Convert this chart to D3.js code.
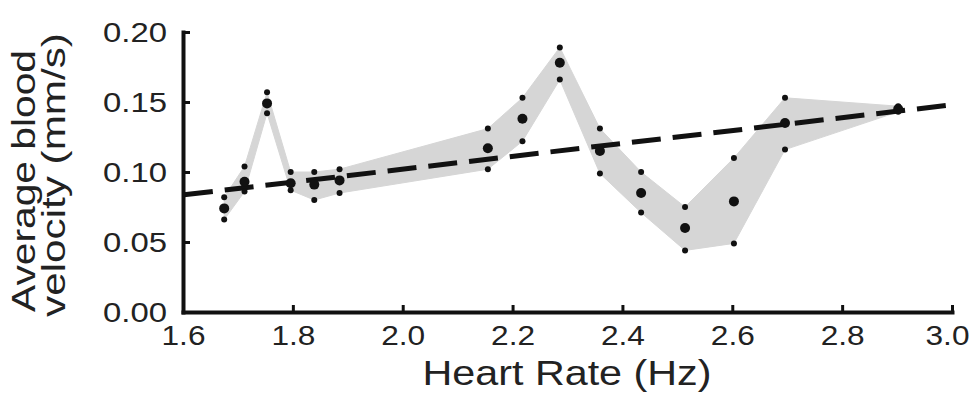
<!DOCTYPE html>
<html>
<head>
<meta charset="utf-8">
<script src="https://cdn.jsdelivr.net/npm/d3@7"></script>
<style>
  html, body { margin: 0; padding: 0; background: #fff; }
  svg { display: block; }
  text { font-family: "Liberation Sans", Arial, Helvetica, sans-serif; fill: #222; }
</style>
</head>
<body>
<svg id="chart" width="973" height="396"></svg>
<script>
// ---- data ----
const heartRate = [1.675, 1.712, 1.753, 1.796, 1.839, 1.885, 2.155, 2.218, 2.286, 2.359, 2.434, 2.514, 2.603, 2.696, 2.902];
const meanVel   = [0.074, 0.093, 0.149, 0.092, 0.091, 0.094, 0.117, 0.138, 0.178, 0.115, 0.085, 0.060, 0.079, 0.135, 0.145];
const upperVel  = [0.082, 0.104, 0.157, 0.100, 0.100, 0.102, 0.131, 0.153, 0.189, 0.131, 0.100, 0.075, 0.110, 0.153, 0.147];
const lowerVel  = [0.066, 0.086, 0.142, 0.087, 0.080, 0.085, 0.102, 0.122, 0.166, 0.099, 0.071, 0.044, 0.049, 0.116, 0.143];
const fitX = [1.6, 3.0];
const fitY = [0.0836, 0.148];
const xTicks = [1.6, 1.8, 2.0, 2.2, 2.4, 2.6, 2.8, 3.0];
const yTicks = [0.00, 0.05, 0.10, 0.15, 0.20];
const xTitle = "Heart Rate (Hz)";
const yTitleLines = ["Average blood", "velocity (mm/s)"];

const svg = d3.select("#chart");
const x = d3.scaleLinear().domain([1.6, 3.0]).range([183, 952]);
const y = d3.scaleLinear().domain([0, 0.2]).range([312, 32]);

const pts = heartRate.map((h, i) => ({h, m: meanVel[i], u: upperVel[i], l: lowerVel[i]}));

// band
const area = d3.area().x(d => x(d.h)).y0(d => y(d.l)).y1(d => y(d.u));
svg.append("path").datum(pts).attr("d", area).attr("fill", "#d6d6d6").attr("stroke", "#d6d6d6").attr("stroke-width", 1);

// fit line
const fit = fitX.map((v, i) => ({x: v, y: fitY[i]}));
svg.append("path").datum(fit)
  .attr("d", d3.line().x(d => x(d.x)).y(d => y(d.y)))
  .attr("fill", "none").attr("stroke", "#111").attr("stroke-width", 5)
  .attr("stroke-dasharray", "29,12").attr("stroke-dashoffset", -1);

// dots
const g = svg.append("g");
g.selectAll(".u").data(pts).join("circle").attr("cx", d => x(d.h)).attr("cy", d => y(d.u)).attr("r", 3).attr("fill", "#111");
g.selectAll(".l").data(pts).join("circle").attr("cx", d => x(d.h)).attr("cy", d => y(d.l)).attr("r", 3).attr("fill", "#111");
g.selectAll(".m").data(pts).join("circle").attr("cx", d => x(d.h)).attr("cy", d => y(d.m)).attr("r", 5).attr("fill", "#111");

// axes
const xAxis = d3.axisBottom(x).tickValues(xTicks).tickFormat(d3.format(".1f")).tickSizeInner(-7).tickSizeOuter(0);
const yAxis = d3.axisLeft(y).tickValues(yTicks).tickFormat(d3.format(".2f")).tickSizeInner(-7).tickSizeOuter(0);

const gx = svg.append("g").attr("transform", "translate(0,312)").call(xAxis);
const gy = svg.append("g").attr("transform", "translate(183,0)").call(yAxis);

[gx, gy].forEach(a => {
  a.select(".domain").attr("stroke", "#111").attr("stroke-width", 4).attr("stroke-linecap", "square");
  a.selectAll(".tick line").attr("stroke", "#111").attr("stroke-width", 3);
});

const lastX = xTicks[xTicks.length - 1];
gx.selectAll(".tick text")
  .attr("y", 33).attr("dy", null)
  .style("font-size", "28px").attr("fill", "#222")
  .each(function(d) {
    const n = this.getComputedTextLength();
    const s = 44 / n;
    const shift = d === lastX ? -5 : 0;
    d3.select(this).attr("x", shift / s).attr("transform", `scale(${s},1)`);
  });

gy.selectAll(".tick text")
  .style("font-size", "27px").attr("dy", "0.36em").attr("fill", "#222")
  .each(function() {
    const n = this.getComputedTextLength();
    const s = 64 / n;
    d3.select(this).attr("x", -16 / s).attr("transform", `scale(${s},1)`);
  });

// titles
const xt = svg.append("text").attr("text-anchor", "middle").style("font-size", "35px").text(xTitle);
{
  const n = xt.node().getComputedTextLength();
  xt.attr("transform", `translate(567,385) scale(${289 / n},1)`);
}

const yCenters = [181, 175], yBase = [35, 65], yLens = [262, 284];
yTitleLines.forEach((t, i) => {
  const tx = svg.append("text").attr("text-anchor", "middle").style("font-size", "33px").text(t);
  const n = tx.node().getComputedTextLength();
  tx.attr("transform", `translate(${yBase[i]},${yCenters[i]}) rotate(-90) scale(${yLens[i] / n},1)`);
});
</script>
</body>
</html>
